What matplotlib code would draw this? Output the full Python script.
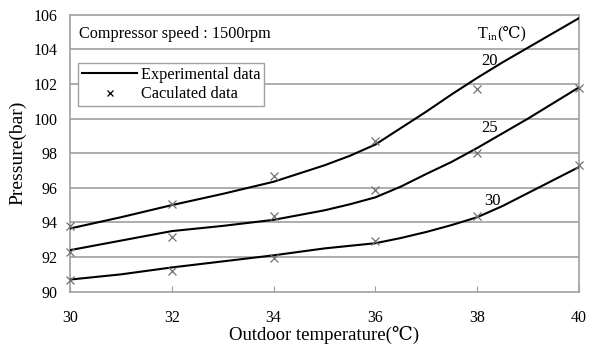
import matplotlib
matplotlib.use("Agg")
import matplotlib.pyplot as plt
from matplotlib.lines import Line2D

plt.rcParams["font.family"] = ["Liberation Serif", "DejaVu Serif", "DejaVu Sans"]
plt.rcParams["mathtext.fontset"] = "custom"
plt.rcParams["mathtext.rm"] = "Liberation Serif"

# experimental curves
x_exp = [30, 31, 32, 33, 34, 35, 35.5, 36, 36.5, 37, 37.5, 38, 38.5, 39, 40]
exp_20 = [93.65, 94.3, 95.0, 95.65, 96.35, 97.3, 97.85, 98.5, 99.45, 100.4, 101.4,
          102.35, 103.25, 104.1, 105.8]
exp_25 = [92.4, 92.95, 93.5, 93.8, 94.15, 94.7, 95.05, 95.45, 96.07, 96.8, 97.5,
          98.3, 99.15, 100.0, 101.8]
exp_30 = [90.7, 91.0, 91.4, 91.75, 92.1, 92.5, 92.65, 92.8, 93.1, 93.45, 93.85,
          94.3, 94.95, 95.7, 97.2]

# calculated points
x_calc_20 = [30, 32, 34, 36, 38]
calc_20 = [93.8, 95.05, 96.7, 98.7, 101.7]
x_calc = [30, 32, 34, 36, 38, 40]
calc_25 = [92.3, 93.15, 94.35, 95.9, 98.0, 101.75]
calc_30 = [90.65, 91.2, 91.95, 92.9, 94.4, 97.3]

curve_labels = ["20", "25", "30"]
label_pos = [(38.25, 103.3), (38.25, 99.45), (38.3, 95.25)]

GRID = "#a0a0a0"
FS = 11.7

fig = plt.figure(figsize=(5.95, 3.47), dpi=100)
ax = fig.add_axes([0.1176, 0.1594, 0.8554, 0.7982])

for yv in [92, 94, 96, 98, 100, 102, 104]:
    ax.axhline(yv, color=GRID, lw=1.2, zorder=1)

for ys in (exp_20, exp_25, exp_30):
    ax.plot(x_exp, ys, color="black", lw=1.5, zorder=3, solid_joinstyle="round")

for xs, ys in ((x_calc_20, calc_20), (x_calc, calc_25), (x_calc, calc_30)):
    ax.plot(xs, ys, ls="none", marker="x", ms=6, mew=0.9, color="#707070",
            zorder=4, clip_on=False)

for txt, (px, py) in zip(curve_labels, label_pos):
    ax.text(px, py, txt, fontsize=12, ha="center", va="center")

ax.text(0.018, 0.93, "Compressor speed : 1500rpm", transform=ax.transAxes,
        fontsize=FS, ha="left", va="center")
ax.text(38.0, 104.9, "T$_{\\mathrm{in}}$", fontsize=FS, ha="left", va="center")
ax.text(38.4, 104.9, "(℃)", fontsize=FS, ha="left", va="center")

ax.set_xlim(30, 40)
ax.set_ylim(90, 106)
ax.set_xticks([30, 32, 34, 36, 38, 40])
ax.set_yticks([90, 92, 94, 96, 98, 100, 102, 104, 106])
ax.tick_params(axis="x", direction="in", length=4, color=GRID, pad=13, labelsize=11.5)
ax.tick_params(axis="y", length=0, pad=9, labelsize=11.5)
for s in ax.spines.values():
    s.set_color(GRID)
    s.set_linewidth(1.2)

ax.set_xlabel("Outdoor temperature(℃)", fontsize=13.5, labelpad=0)
ax.set_ylabel("Pressure(bar)", fontsize=14, labelpad=5)

handles = [Line2D([], [], color="black", lw=1.5),
           Line2D([], [], ls="none", marker="x", ms=5, mew=0.9, color="black")]
leg = ax.legend(handles, ["Experimental data", "Caculated data"],
                loc="upper left", bbox_to_anchor=(0.0, 0.855), fontsize=FS,
                handlelength=3.4, handletextpad=0.2, borderpad=0.25,
                labelspacing=0.2, fancybox=False, framealpha=1)
leg.get_frame().set_edgecolor(GRID)
leg.get_frame().set_linewidth(1.0)

fig.savefig("out.png", dpi=100)
